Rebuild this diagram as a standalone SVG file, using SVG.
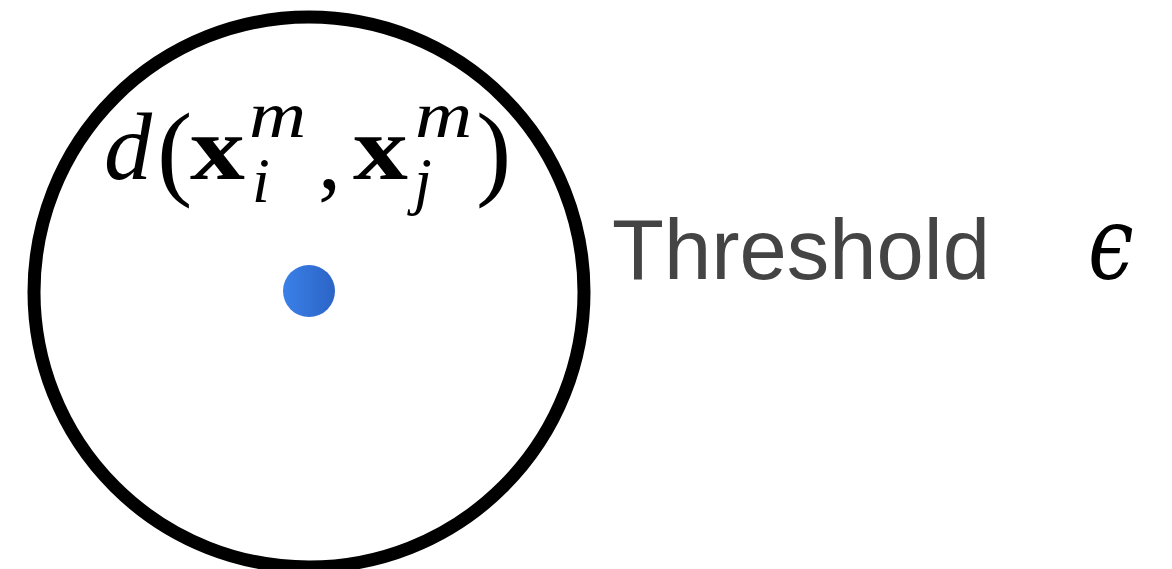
<svg xmlns="http://www.w3.org/2000/svg" width="1172" height="569" viewBox="0 0 1172 569">
<defs>
<linearGradient id="dotg" x1="0" y1="0" x2="1" y2="0">
<stop offset="0" stop-color="#3a80e8"/>
<stop offset="1" stop-color="#2c64c6"/>
</linearGradient>
<style>
.m{font-family:"Liberation Serif","DejaVu Serif",serif;fill:#000}
.it{font-style:italic}
.bf{font-weight:bold}
.lbl{font-family:"Liberation Sans",Arial,sans-serif;fill:#444444}
.eps{font-family:"DejaVu Serif","Liberation Serif",serif;font-style:italic;font-weight:normal;fill:#000}
</style>
</defs>
<rect width="1172" height="569" fill="#ffffff"/>
<g id="region">
<circle cx="309" cy="292" r="275" fill="none" stroke="#000" stroke-width="13"/>
</g>
<g id="point">
<circle cx="309" cy="291" r="26" fill="url(#dotg)"/>
</g>
<g id="distance-label">
<text class="m it" x="104" y="179" font-size="96">d</text>
<text class="m" x="157" y="186" font-size="106">(</text>
<text class="m bf" transform="translate(190,179) scale(1.22,1)" font-size="90">x</text>
<text class="m it" transform="translate(249,137) scale(1.2,1)" font-size="66">m</text>
<text class="m it" x="252" y="202" font-size="64">i</text>
<text class="m" x="318" y="188" font-size="92">,</text>
<text class="m bf" transform="translate(353,179) scale(1.22,1)" font-size="90">x</text>
<text class="m it" transform="translate(415,137) scale(1.2,1)" font-size="66">m</text>
<text class="m it" x="414" y="202" font-size="64">j</text>
<text class="m" x="476" y="186" font-size="106">)</text>
</g>
<g id="threshold-label">
<text class="lbl" x="612" y="279" font-size="85">Threshold</text>
<text class="eps" transform="translate(1088,279) scale(0.8,1)" font-size="102">ϵ</text>
</g>
</svg>
